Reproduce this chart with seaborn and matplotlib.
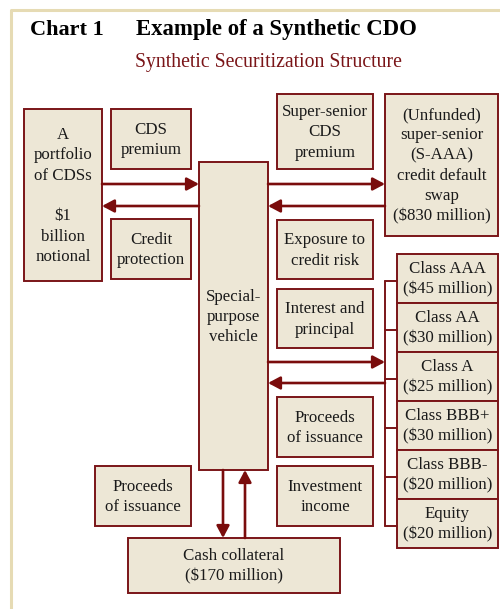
import matplotlib

matplotlib.use("Agg")

import matplotlib.pyplot as plt
import seaborn as sns
from matplotlib.patches import Rectangle

# text content
TITLE_NUM = "Chart 1"
TITLE = "Example of a Synthetic CDO"
SUBTITLE = "Synthetic Securitization Structure"

NODE_NAMES = [
    "portfolio", "cds_premium", "credit_protection", "spv", "ss_premium",
    "unfunded", "exposure", "interest", "proceeds_right", "income",
    "proceeds_left", "cash",
]
NODE_LABELS = [
    "A\nportfolio\nof CDSs\n\n$1\nbillion\nnotional",
    "CDS\npremium",
    "Credit\nprotection",
    "Special-\npurpose\nvehicle",
    "Super-senior\nCDS\npremium",
    "(Unfunded)\nsuper-senior\n(S-AAA)\ncredit default\nswap\n($830 million)",
    "Exposure to\ncredit risk",
    "Interest and\nprincipal",
    "Proceeds\nof issuance",
    "Investment\nincome",
    "Proceeds\nof issuance",
    "Cash collateral\n($170 million)",
]

TRANCHE_CLASSES = ["Class AAA", "Class AA", "Class A", "Class BBB+", "Class BBB-", "Equity"]
TRANCHE_MILLIONS = [45, 30, 25, 30, 20, 20]

# layout in pixel space (x0, y0, x1, y1), y measured from the top
LAYOUT = {
    "portfolio": (24, 109, 102, 281),
    "cds_premium": (111, 109, 191, 169),
    "credit_protection": (111, 219, 191, 279),
    "spv": (199, 162, 268, 470),
    "ss_premium": (277, 94, 373, 169),
    "unfunded": (385, 94, 498, 236),
    "exposure": (277, 220, 373, 279),
    "interest": (277, 289, 373, 348),
    "proceeds_right": (277, 397, 373, 457),
    "income": (277, 466, 373, 526),
    "proceeds_left": (95, 466, 191, 526),
    "cash": (128, 538, 340, 593),
}
TRANCHE_X = (397, 498)
TRANCHE_TOP = 254
TRANCHE_H = 49
BRACKET_X = 385

FILL = "#ede7d6"
EDGE = "#7a1518"
ARROW = "#7a0c0c"
FRAME = "#e6dbb4"
FONT = "Liberation Serif"


def draw_box(ax, x0, y0, x1, y1, label):
    ax.add_patch(Rectangle((x0, y0), x1 - x0, y1 - y0, facecolor=FILL,
                           edgecolor=EDGE, linewidth=1.4))
    ax.text((x0 + x1) / 2, (y0 + y1) / 2 + 1, label, ha="center", va="center",
            fontsize=12.2, family=FONT, color="#1a1a1a", linespacing=1.36,
            parse_math=False)


def arrow(ax, start, end):
    ax.annotate("", xy=end, xytext=start,
                arrowprops=dict(arrowstyle="-|>,head_length=0.6,head_width=0.32",
                                color=ARROW, lw=1.9, shrinkA=0, shrinkB=0))


def main() -> None:
    sns.set_theme(style="white")
    fig = plt.figure(figsize=(5.0, 6.09), dpi=100)
    ax = fig.add_axes([0, 0, 1, 1])
    ax.set_xlim(0, 500)
    ax.set_ylim(609, 0)
    ax.axis("off")

    # frame
    ax.plot([11, 11, 500], [609, 10, 10], color=FRAME, lw=2.2, solid_capstyle="butt")

    ax.text(30, 35, TITLE_NUM, fontsize=16, fontweight="bold", family=FONT,
            va="baseline", color="black")
    ax.text(136, 35, TITLE, fontsize=16.4, fontweight="bold", family=FONT,
            va="baseline", color="black")
    ax.text(268, 62, SUBTITLE, fontsize=14.2, family=FONT, ha="center",
            va="center", color="#7a1518")

    for name, label in zip(NODE_NAMES, NODE_LABELS):
        x0, y0, x1, y1 = LAYOUT[name]
        draw_box(ax, x0, y0, x1, y1, label)

    # tranches and bracket
    mids = []
    for i, (cls, amount) in enumerate(zip(TRANCHE_CLASSES, TRANCHE_MILLIONS)):
        y0 = TRANCHE_TOP + i * TRANCHE_H
        draw_box(ax, TRANCHE_X[0], y0, TRANCHE_X[1], y0 + TRANCHE_H,
                 f"{cls}\n(${amount} million)")
        mids.append(y0 + TRANCHE_H / 2 + 2)
    ax.plot([BRACKET_X, BRACKET_X], [mids[0], mids[-1]], color=EDGE, lw=1.4)
    for y in mids:
        ax.plot([BRACKET_X, TRANCHE_X[0]], [y, y], color=EDGE, lw=1.4)

    # flows
    arrow(ax, (102, 184), (199, 184))
    arrow(ax, (199, 206), (102, 206))
    arrow(ax, (268, 184), (385, 184))
    arrow(ax, (385, 206), (268, 206))
    arrow(ax, (268, 362), (385, 362))
    arrow(ax, (385, 383), (268, 383))
    arrow(ax, (223, 470), (223, 538))
    arrow(ax, (245, 538), (245, 470))

    fig.savefig("out.png", dpi=100, facecolor="white")
    plt.close(fig)


if __name__ == "__main__":
    main()
